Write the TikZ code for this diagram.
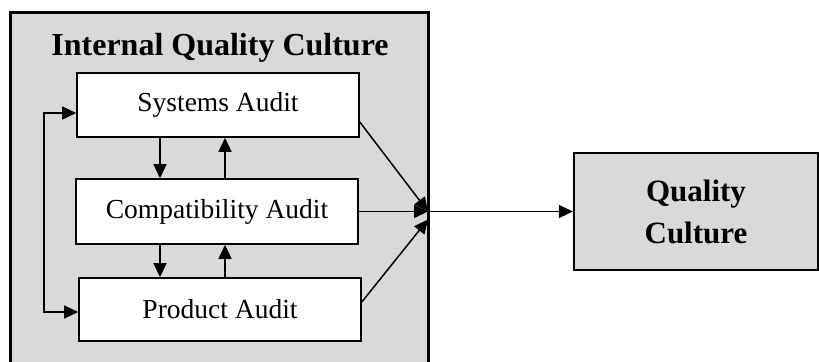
\documentclass[tikz,border=0pt]{standalone}
\usepackage{fontspec}
\setmainfont{Liberation Serif}
\usetikzlibrary{arrows.meta}
\definecolor{boxgray}{RGB}{217,217,217}
\tikzset{
  audit/.style={draw, line width=1.6bp, fill=white, minimum width=282bp, inner sep=0pt,
    font=\fontsize{27.5bp}{32bp}\selectfont},
  flow/.style={line width=1.5bp, -{Triangle[length=14bp,width=13bp]}},
}
\begin{document}
\begin{tikzpicture}[x=1bp,y=-1bp]
            \clip (0,0) rectangle (819,361);
            \draw[line width=3bp,fill=boxgray] (10,12) rectangle (428,380);
            \node[anchor=base,font=\bfseries\fontsize{32bp}{36bp}\selectfont] (title) at (220,55) {Internal Quality Culture};
            \node[audit,minimum height=64bp] (sys) at (218,105) {Systems Audit};
            \node[audit,minimum height=65bp] (compat) at (217,211.5) {Compatibility Audit};
            \node[audit,minimum height=63bp] (prod) at (220,309.5) {Product Audit};
            \node[draw,line width=2.2bp,fill=boxgray,minimum width=244bp,minimum height=117bp,align=center,
                  font=\bfseries\fontsize{31bp}{42bp}\selectfont] (qc) at (696,211.5) {Quality\\Culture};
            \coordinate (join) at (428,211.5);
            \draw[flow] ([xshift=-58bp]sys.south) -- ([xshift=-58bp]sys.south |- compat.north);
            \draw[flow] ([xshift=8bp]compat.north) -- ([xshift=8bp]compat.north |- sys.south);
            \draw[flow] ([xshift=-57bp]compat.south) -- ([xshift=-57bp]compat.south |- prod.north);
            \draw[flow] ([xshift=8bp]compat.south |- prod.north) -- ([xshift=8bp]compat.south);
            \draw[flow,{Triangle[length=14bp,width=13bp]}-{Triangle[length=14bp,width=13bp]}] ([yshift=-8bp]sys.west) -- ++(-32,0) |- ([yshift=-2.5bp]prod.west);
            \draw[flow] ([yshift=-17bp]sys.east) -- (join);
            \draw[flow] (compat.east) -- (join);
            \draw[flow] ([yshift=7.5bp]prod.east) -- ([yshift=-8bp]join);
            \draw[flow] (join) -- (qc);
\end{tikzpicture}
\end{document}
